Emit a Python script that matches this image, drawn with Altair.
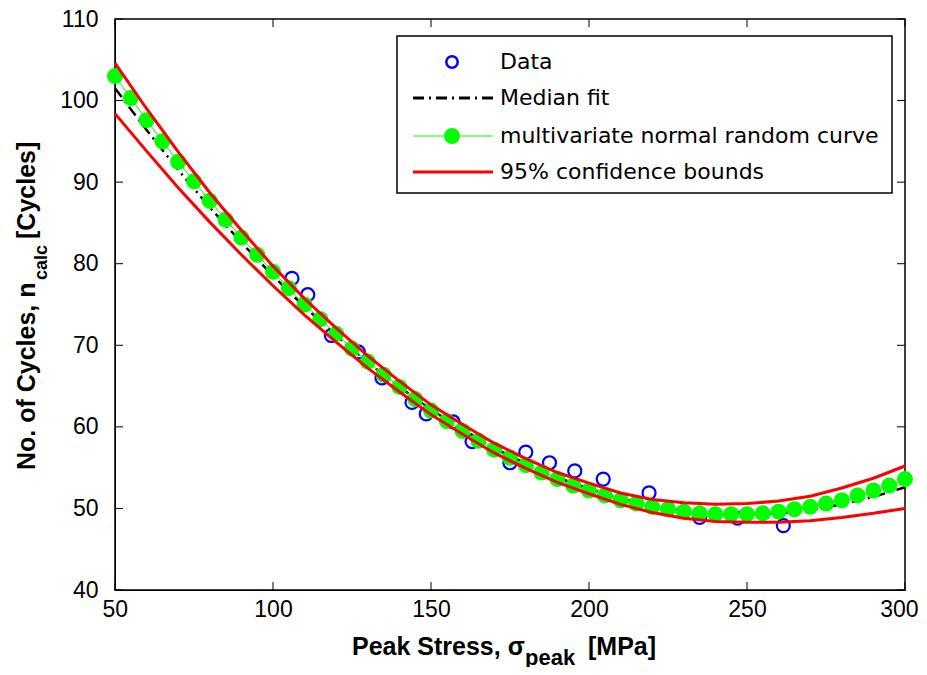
import altair as alt
import pandas as pd

# ---- data ----
data_x = [106, 111, 118.5, 127, 134.5, 144, 148.5, 157, 163, 175, 180, 187.5, 195.5, 204.5, 219, 235, 247, 261.5]
data_y = [78.2, 76.2, 71.2, 69.2, 66.0, 63.0, 61.6, 60.6, 58.2, 55.6, 56.9, 55.6, 54.6, 53.6, 51.9, 48.9, 48.8, 47.9]

fit_x = [50, 60, 70, 80, 90, 100, 110, 120, 130, 140, 150, 160, 170, 180, 190,
         200, 210, 220, 230, 240, 250, 260, 270, 280, 290, 300]
median_y = [101.5, 96.4, 91.5, 86.9, 82.6, 78.5, 74.7, 71.2, 67.9, 64.9, 62.1, 59.7, 57.4, 55.5, 53.8,
            52.4, 51.2, 50.3, 49.7, 49.3, 49.3, 49.4, 49.8, 50.5, 51.4, 52.6]
upper_y = [104.6, 99.0, 93.7, 88.7, 84.1, 79.7, 75.7, 72.1, 68.7, 65.6, 62.7, 60.3, 58.0, 56.1, 54.4,
           53.1, 51.9, 51.1, 50.7, 50.5, 50.6, 50.9, 51.5, 52.5, 53.7, 55.2]
lower_y = [98.4, 93.8, 89.3, 85.1, 81.1, 77.3, 73.7, 70.4, 67.2, 64.3, 61.5, 59.1, 56.8, 54.9, 53.2,
           51.8, 50.5, 49.5, 48.8, 48.4, 48.3, 48.3, 48.5, 48.9, 49.4, 50.0]

rand_x = [50, 55, 60, 65, 70, 75, 80, 85, 90, 95, 100, 105, 110, 115, 120, 125, 130, 135, 140, 145,
          150, 155, 160, 165, 170, 175, 180, 185, 190, 195, 200, 205, 210, 215, 220, 225, 230, 235,
          240, 245, 250, 255, 260, 265, 270, 275, 280, 285, 290, 295, 300]
rand_y = [103.0, 100.3, 97.6, 95.0, 92.5, 90.1, 87.7, 85.4, 83.2, 81.1, 79.0, 77.0, 75.0, 73.2, 71.4,
          69.6, 68.0, 66.4, 64.9, 63.4, 62.0, 60.7, 59.5, 58.3, 57.2, 56.2, 55.3, 54.4, 53.6, 52.8,
          52.2, 51.6, 51.0, 50.6, 50.2, 49.9, 49.6, 49.4, 49.3, 49.3, 49.3, 49.4, 49.6, 49.9, 50.2,
          50.6, 51.0, 51.6, 52.2, 52.8, 53.6]

x_ticks = [50, 100, 150, 200, 250, 300]
y_ticks = [40, 50, 60, 70, 80, 90, 100, 110]

legend_labels = ["Data", "Median fit", "multivariate normal random curve", "95% confidence bounds"]

W, H = 790, 571
TICK_FONT = "Liberation Sans"
LEG_FONT = "DejaVu Sans"

xs = alt.Scale(domain=[50, 300], nice=False, zero=False)
ys = alt.Scale(domain=[40, 110], nice=False, zero=False)

xaxis = alt.Axis(values=x_ticks, title=None, ticks=False, grid=False, labelFont=TICK_FONT,
                 labelFontSize=23, labelColor="black", labelPadding=8, domainColor="black",
                 labelFlush=True, labelFlushOffset=13)
yaxis = alt.Axis(values=y_ticks, title=None, ticks=False, grid=False, labelFont=TICK_FONT,
                 labelFontSize=23, labelColor="black", labelPadding=17, domainColor="black")


def one():
    return alt.Data(values=[{"k": 0}])


df_data = pd.DataFrame({"x": data_x, "y": data_y})
df_fit = pd.DataFrame({"x": fit_x, "m": median_y, "u": upper_y, "l": lower_y})
df_rand = pd.DataFrame({"x": rand_x, "y": rand_y})
df_xt = pd.DataFrame({"v": x_ticks})
df_yt = pd.DataFrame({"v": y_ticks})

base_axes = alt.Chart(df_xt).mark_rule(color="black", strokeWidth=1).encode(
    x=alt.X("v:Q", scale=xs, axis=xaxis), y=alt.value(H), y2=alt.value(H - 8))
top_ticks = alt.Chart(df_xt).mark_rule(color="black", strokeWidth=1).encode(
    x=alt.X("v:Q", scale=xs), y=alt.value(0), y2=alt.value(8))
left_ticks = alt.Chart(df_yt).mark_rule(color="black", strokeWidth=1).encode(
    y=alt.Y("v:Q", scale=ys, axis=yaxis), x=alt.value(0), x2=alt.value(8))
right_ticks = alt.Chart(df_yt).mark_rule(color="black", strokeWidth=1).encode(
    y=alt.Y("v:Q", scale=ys), x=alt.value(W), x2=alt.value(W - 8))

pts = alt.Chart(df_data).mark_point(shape="circle", filled=False, color="#0000FF",
                                    size=170, strokeWidth=2.2, opacity=1).encode(
    x=alt.X("x:Q", scale=xs), y=alt.Y("y:Q", scale=ys))

median = alt.Chart(df_fit).mark_line(color="black", strokeWidth=2.5,
                                     strokeDash=[11, 5, 2, 5]).encode(
    x=alt.X("x:Q", scale=xs), y=alt.Y("m:Q", scale=ys))

rand_line = alt.Chart(df_rand).mark_line(color="#00FF00", strokeWidth=1).encode(
    x=alt.X("x:Q", scale=xs), y=alt.Y("y:Q", scale=ys))
rand_pts = alt.Chart(df_rand).mark_point(shape="circle", filled=True, color="#00FF00",
                                         size=256, opacity=1).encode(
    x=alt.X("x:Q", scale=xs), y=alt.Y("y:Q", scale=ys))

upper = alt.Chart(df_fit).mark_line(color="#FF0000", strokeWidth=3).encode(
    x=alt.X("x:Q", scale=xs), y=alt.Y("u:Q", scale=ys))
lower = alt.Chart(df_fit).mark_line(color="#FF0000", strokeWidth=3).encode(
    x=alt.X("x:Q", scale=xs), y=alt.Y("l:Q", scale=ys))

# ---- legend (drawn manually, MATLAB style) ----
LX0, LX1, LY0, LY1 = 282, 777, 17, 174
rows_y = [43, 79, 117, 153]
sym_x0, sym_x1, sym_c, txt_x = 298, 378, 337, 385

leg_box = alt.Chart(one()).mark_rect(fill="white", stroke="black", strokeWidth=1.5).encode(
    x=alt.value(LX0), x2=alt.value(LX1), y=alt.value(LY0), y2=alt.value(LY1))
leg_data = alt.Chart(one()).mark_point(shape="circle", filled=False, color="#0000FF",
                                       size=130, strokeWidth=2.5, opacity=1).encode(
    x=alt.value(sym_c), y=alt.value(rows_y[0]))
leg_med = alt.Chart(one()).mark_rule(color="black", strokeWidth=3, strokeDash=[11, 5, 2, 5]).encode(
    x=alt.value(sym_x0), x2=alt.value(sym_x1), y=alt.value(rows_y[1]))
leg_rl = alt.Chart(one()).mark_rule(color="#00FF00", strokeWidth=1).encode(
    x=alt.value(sym_x0), x2=alt.value(sym_x1), y=alt.value(rows_y[2]))
leg_rp = alt.Chart(one()).mark_point(shape="circle", filled=True, color="#00FF00",
                                     size=256, opacity=1).encode(
    x=alt.value(sym_c), y=alt.value(rows_y[2]))
leg_red = alt.Chart(one()).mark_rule(color="#FF0000", strokeWidth=3).encode(
    x=alt.value(sym_x0), x2=alt.value(sym_x1), y=alt.value(rows_y[3]))
leg_texts = [
    alt.Chart(one()).mark_text(align="left", baseline="middle", font=LEG_FONT, fontSize=22,
                               color="black").encode(
        x=alt.value(txt_x), y=alt.value(yy), text=alt.value(lab))
    for lab, yy in zip(legend_labels, rows_y)
]

# ---- axis titles with subscripts ----
TF = "Liberation Sans"


def ttext(txt, x, y, size, angle=0):
    return alt.Chart(one()).mark_text(align="left", baseline="alphabetic", font=TF,
                                      fontSize=size, fontWeight="bold", color="black",
                                      angle=angle).encode(
        x=alt.value(x), y=alt.value(y), text=alt.value(txt))


xt1 = ttext("Peak Stress, σ", 237, 636, 25)
xt2 = ttext("peak", 410, 646, 22)
xt3 = ttext("[MPa]", 473, 636, 25)
yt1 = ttext("No. of Cycles, n", -80, 451, 25, angle=270)
yt2 = ttext("calc", -68, 261, 18, angle=270)
yt3 = ttext("[Cycles]", -80, 220, 25, angle=270)

chart = alt.layer(
    base_axes, top_ticks, left_ticks, right_ticks,
    pts, median, rand_line, rand_pts, upper, lower,
    leg_box, leg_data, leg_med, leg_rl, leg_rp, leg_red, *leg_texts,
    xt1, xt2, xt3, yt1, yt2, yt3,
).properties(
    width=W, height=H,
    autosize=alt.AutoSizeParams(type="none"),
    padding={"left": 107, "top": 11, "right": 14, "bottom": 77},
    background="white",
).configure_view(stroke="black", strokeWidth=1.5)

chart.save("out.html", embed_options={"renderer": "svg", "actions": False})
